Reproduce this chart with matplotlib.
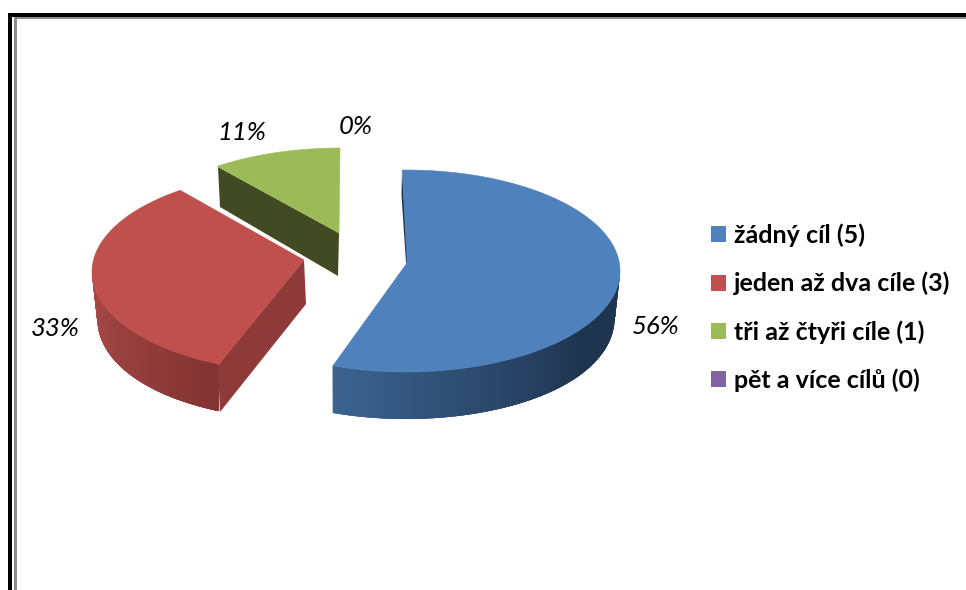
#!/usr/bin/env python
# coding: utf-8

import numpy as np
import matplotlib
matplotlib.use('Agg')
import matplotlib.pyplot as plt
from matplotlib.collections import PolyCollection
from matplotlib.colors import to_rgb
from matplotlib.patches import Patch

categories = ['žádný cíl (5)', 'jeden až dva cíle (3)', 'tři až čtyři cíle (1)', 'pět a více cílů (0)']
values = [5, 3, 1, 0]
colors = ['#4F81BD', '#C0504D', '#9BBB59', '#8064A2']

# pixel geometry of each exploded slice, the ellipse is fake 3D
centers = [(406, 271), (306, 272), (340, 249), (340, 249)]
apexes = [(407, 263), (304, 260), (339, 233), (339, 233)]
shift_start = [-1, 4, 5, 0]
shift_end = [0, 4, 0, 0]
RX, RY = 214, 101
DEPTH = 47

label_pos = [(656, 327), (55, 328), (242, 133), (356, 126)]
total = sum(values)
fractions = [v / total for v in values]


def point(cx, cy, theta, bottom=False):
    # theta runs clockwise from the top of the pie
    t = np.radians(theta)
    if bottom:
        # bottom ellipse is a bit narrower at the far left and right
        return cx + RX * np.sin(t) * (1 - 0.025 * np.abs(np.sin(t)) ** 3), cy + DEPTH - RY * np.cos(t)
    return cx + RX * np.sin(t), cy - RY * np.cos(t)


def mix(c1, c2, f):
    a, b = np.array(to_rgb(c1)), np.array(to_rgb(c2))
    return tuple(a + (b - a) * f)


fig = plt.figure(figsize=(9.66, 5.9), dpi=100)
ax = fig.add_axes([0, 0, 1, 1])
ax.set_xlim(0, 966)
ax.set_ylim(590, 0)
ax.axis('off')

# double frame of the pasted picture
ax.fill([8, 966, 966, 12, 12, 8], [13, 13, 17, 17, 590, 590], color='black', lw=0)
ax.fill([14, 966, 966, 17, 17, 14], [17, 17, 19, 19, 590, 590], color='#8c8c8c', lw=0)

# rims, only the front of the blue and red slices shows
rim_stops = {0: (200, 125, '#3C6391', '#1F344F'), 1: (270, 204, '#AC4C49', '#823432')}
angle = 0
for i, frac in enumerate(fractions):
    start = angle + shift_start[i]
    end = angle + frac * 360 + shift_end[i]
    angle += frac * 360
    if i not in rim_stops:
        continue
    cx, cy = centers[i]
    a0, a1, c0, c1 = rim_stops[i]
    lo, hi = max(start, 90), min(end, 270)
    thetas = np.linspace(lo, hi, 240)
    polys, cols = [], []
    for t0, t1 in zip(thetas[:-1], thetas[1:]):
        # overlap the next strip so no seams show between them
        t2 = min(t1 + 1, hi)
        polys.append([point(cx, cy, t0), point(cx, cy, t2), point(cx, cy, t2, True), point(cx, cy, t0, True)])
        f = np.clip((t0 - a0) / (a1 - a0), 0, 1)
        cols.append(mix(c0, c1, f))
    ax.add_collection(PolyCollection(polys[::-1] if i == 1 else polys, facecolors=cols[::-1] if i == 1 else cols,
                                     edgecolors='none', zorder=2))

# cut faces
ax.fill([218, 304, 306, 220], [365, 260, 304, 412], color='#8E3A38', lw=0, zorder=3)
ax.fill([218, 339, 338, 220], [167, 233, 276, 207], color='#414A22', lw=0, zorder=3)
ax.fill([402, 401.5, 406, 408], [170, 195, 263, 263], color='#1F344F', lw=0, zorder=3)

# top faces
angle = 0
for i, frac in enumerate(fractions):
    start = angle + shift_start[i]
    end = angle + frac * 360 + shift_end[i]
    angle += frac * 360
    if frac == 0:
        continue
    cx, cy = centers[i]
    thetas = np.linspace(start, end, 120)
    xs, ys = point(cx, cy, thetas)
    ax.fill(np.r_[apexes[i][0], xs], np.r_[apexes[i][1], ys], color=colors[i], lw=0.4, zorder=4)

for frac, (x, y) in zip(fractions, label_pos):
    ax.text(x, y, '{:.0f}%'.format(frac * 100), ha='center', va='center', fontsize=18.5,
            style='italic', family='Lato', color='black', zorder=5)

handles = [Patch(facecolor=c, edgecolor='none') for c in colors]
ax.legend(handles, categories, loc='upper left', bbox_to_anchor=(703, 216), bbox_transform=ax.transData,
          frameon=False, prop={'family': 'Lato', 'weight': 'bold', 'size': 18},
          handlelength=0.6, handleheight=0.6, handletextpad=0.33, labelspacing=0.99,
          borderpad=0.3, borderaxespad=0)

plt.savefig('out.png', dpi=100)
